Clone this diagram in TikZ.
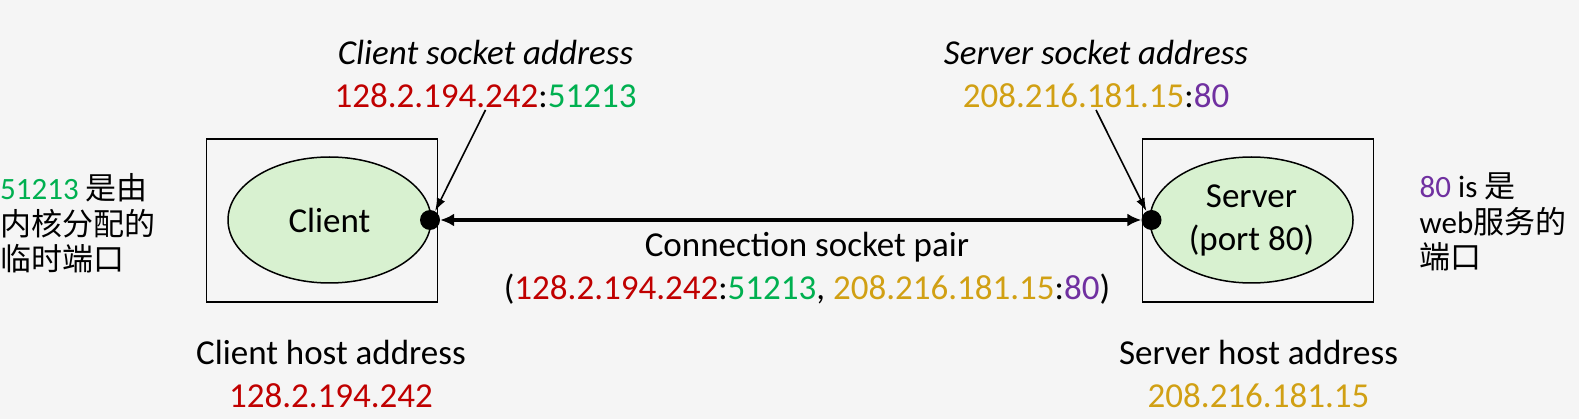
\documentclass[tikz,border=0pt]{standalone}
\usepackage{fontspec}
\setmainfont{Carlito}
\newfontfamily\cjk{Noto Sans CJK SC}
\usetikzlibrary{shapes,arrows.meta}
\definecolor{hostred}{RGB}{192,0,0}
\definecolor{portgreen}{RGB}{0,176,80}
\definecolor{hostgold}{RGB}{209,160,20}
\definecolor{portpurple}{RGB}{112,48,160}
\definecolor{procgreen}{RGB}{216,241,208}
\definecolor{slidegray}{RGB}{245,245,245}
\newcommand{\bigtext}{\fontsize{35}{43}\selectfont}
\newcommand{\notetext}{\fontsize{31}{35.5}\selectfont}
\tikzstyle{host} = [rectangle, draw, line width=1.5pt,
    minimum width=231pt, minimum height=163pt]
\tikzstyle{proc} = [ellipse, draw, line width=1.5pt, fill=procgreen,
    minimum width=203pt, minimum height=126pt, inner sep=0pt, align=center, font=\bigtext]
\tikzstyle{sock} = [circle, fill, inner sep=0pt, minimum size=20pt]
\tikzstyle{addr} = [align=center, inner sep=2pt, font=\bigtext]
\tikzstyle{remark} = [align=left, anchor=west, inner sep=0pt, font=\notetext]
\tikzstyle{line} = [draw, line width=1.6pt, -{Latex[length=13pt,width=9pt]}]
\tikzstyle{pair} = [draw, line width=4pt,
    {Latex[length=14pt,width=13pt]}-{Latex[length=14pt,width=13pt]}]

\begin{document}
\begin{tikzpicture}[x=1pt, y=-1pt]
    \fill [slidegray] (0,0) rectangle (1579,419);
    \useasboundingbox (0,0) rectangle (1579,419);
    % Place nodes
    \node [host] (clienthost) at (322,220.5) {};
    \node [proc] (client) at (329.5,220) {Client};
    \node [sock] (clientdot) at (430,220) {};
    \node [host] (serverhost) at (1258,220.5) {};
    \node [proc] (server) at (1251.5,220) {Server\\(port 80)};
    \node [sock] (serverdot) at (1151.5,220) {};
    \node [addr] (clientsock) at (485.5,74)
        {\textit{Client socket address}\\{\color{hostred}128.2.194.242}:{\color{portgreen}51213}};
    \node [addr] (serversock) at (1096,74)
        {\textit{Server socket address}\\{\color{hostgold}208.216.181.15}:{\color{portpurple}80}};
    \node [addr] (pairlabel) at (807,268.5)
        {Connection socket pair\\({\color{hostred}128.2.194.242}:{\color{portgreen}51213}, {\color{hostgold}208.216.181.15}:{\color{portpurple}80})};
    \node [addr] (clientaddr) at (331,373.5) {Client host address\\{\color{hostred}128.2.194.242}};
    \node [addr] (serveraddr) at (1258.5,373.5) {Server host address\\{\color{hostgold}208.216.181.15}};
    \node [remark] (clientnote) at (0,223.5)
        {{\color{portgreen}51213} {\cjk 是由}\\{\cjk 内核分配的}\\{\cjk 临时端口}};
    \node [remark] (servernote) at (1419.5,222)
        {{\color{portpurple}80} is {\cjk 是}\\web{\cjk 服务的}\\{\cjk 端口}};
    % Draw edges
    \path [line] (clientsock.south) -- (clientdot.60);
    \path [line] (serversock.south) -- (serverdot.120);
    \path [pair] (clientdot) -- (serverdot);
\end{tikzpicture}
\end{document}
